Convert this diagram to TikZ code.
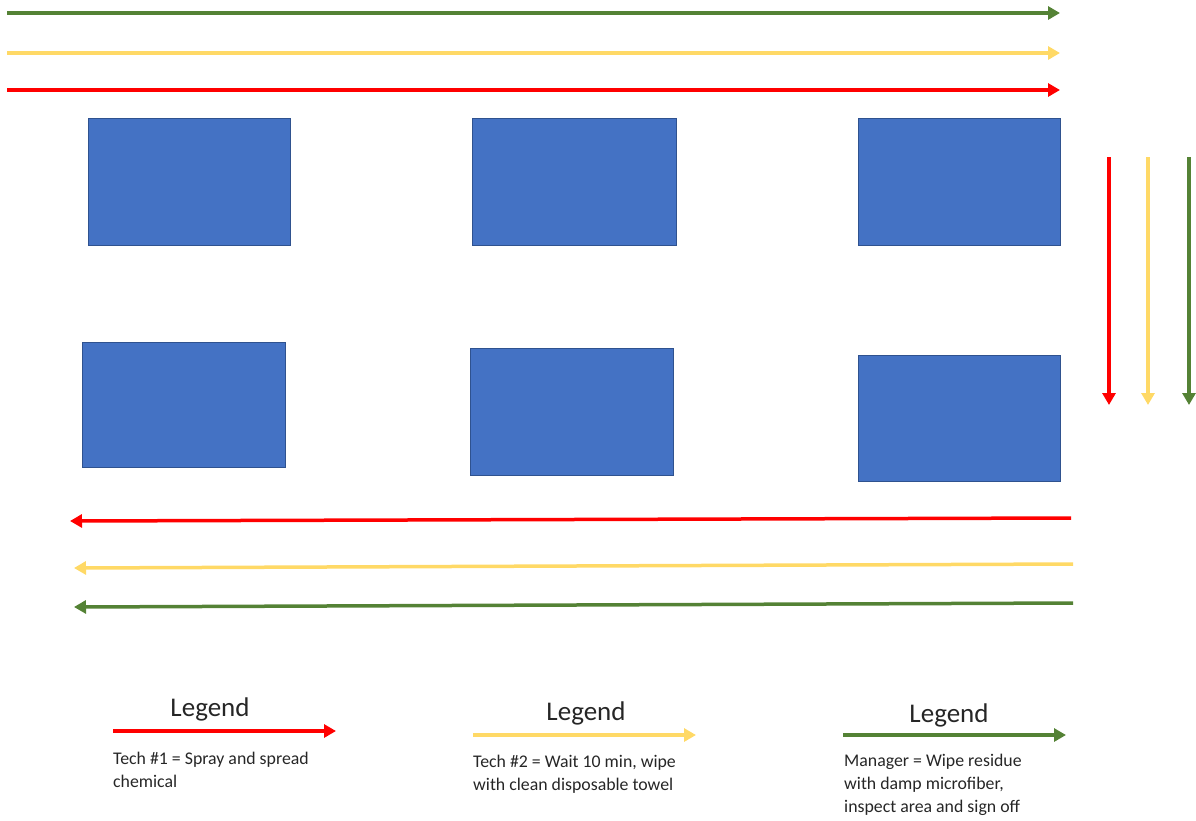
\documentclass[tikz,border=0pt]{standalone}
\usepackage{fontspec}
\setmainfont{Carlito}
\usetikzlibrary{arrows.meta}
\definecolor{cred}{HTML}{FF0000}
\definecolor{cyel}{HTML}{FFD966}
\definecolor{cgrn}{HTML}{548235}
\definecolor{cblue}{HTML}{4472C4}
\definecolor{cbord}{HTML}{2F528F}
\definecolor{ctxt}{HTML}{262626}
\tikzset{
  flow/.style={line width=3.5pt,-{Triangle[length=12pt,width=13pt]}},
  box/.style={fill=cblue,draw=cbord,line width=0.8pt},
  legtitle/.style={font=\fontsize{27}{30}\selectfont,text=ctxt,inner sep=0pt},
  legtext/.style={font=\fontsize{17.8}{23}\selectfont,text=ctxt,align=left,inner sep=0pt,anchor=north west},
}
\begin{document}
\begin{tikzpicture}[x=1pt,y=-1pt]
\useasboundingbox (0,0) rectangle (1196,820);
% top arrows
\coordinate (g1s) at (7,13);  \coordinate (g1e) at (1060,13);
\coordinate (y1s) at (7,53);  \coordinate (y1e) at (1060,53);
\coordinate (r1s) at (7,90);  \coordinate (r1e) at (1060,90);
\draw[flow,cgrn] (g1s) -- (g1e);
\draw[flow,cyel] (y1s) -- (y1e);
\draw[flow,cred] (r1s) -- (r1e);
% boxes
\path[box] (88,118) rectangle (290,245);
\path[box] (472,118) rectangle (676,245);
\path[box] (858,118) rectangle (1060,245);
\path[box] (82,342) rectangle (285,467);
\path[box] (470,348) rectangle (673,475);
\path[box] (858,355) rectangle (1060,481);
% vertical arrows
\coordinate (r2s) at (1109,157); \coordinate (r2e) at (1109,405);
\coordinate (y2s) at (1148,157); \coordinate (y2e) at (1148,405);
\coordinate (g2s) at (1189,157); \coordinate (g2e) at (1189,405);
\draw[flow,cred] (r2s) -- (r2e);
\draw[flow,cyel] (y2s) -- (y2e);
\draw[flow,cgrn] (g2s) -- (g2e);
% bottom arrows
\coordinate (r3s) at (1071,518); \coordinate (r3e) at (70,521);
\coordinate (y3s) at (1073,564); \coordinate (y3e) at (74,568);
\coordinate (g3s) at (1073,603); \coordinate (g3e) at (74,607);
\draw[flow,cred] (r3s) -- (r3e);
\draw[flow,cyel] (y3s) -- (y3e);
\draw[flow,cgrn] (g3s) -- (g3e);
% legends
\node[legtitle] (lt1) at (210,709) {Legend};
\coordinate (l1s) at (113,731); \coordinate (l1e) at (336,731);
\draw[flow,cred] (l1s) -- (l1e);
\node[legtext] (lx1) at (113,752) {Tech \#1 = Spray and spread\\chemical};

\node[legtitle] (lt2) at (586,713) {Legend};
\coordinate (l2s) at (473,735); \coordinate (l2e) at (696,735);
\draw[flow,cyel] (l2s) -- (l2e);
\node[legtext] (lx2) at (473,755) {Tech \#2 = Wait 10 min, wipe\\with clean disposable towel};

\node[legtitle] (lt3) at (949,715) {Legend};
\coordinate (l3s) at (843,735); \coordinate (l3e) at (1066,735);
\draw[flow,cgrn] (l3s) -- (l3e);
\node[legtext] (lx3) at (844,754) {Manager = Wipe residue\\with damp microfiber,\\inspect area and sign off};
\end{tikzpicture}
\end{document}
